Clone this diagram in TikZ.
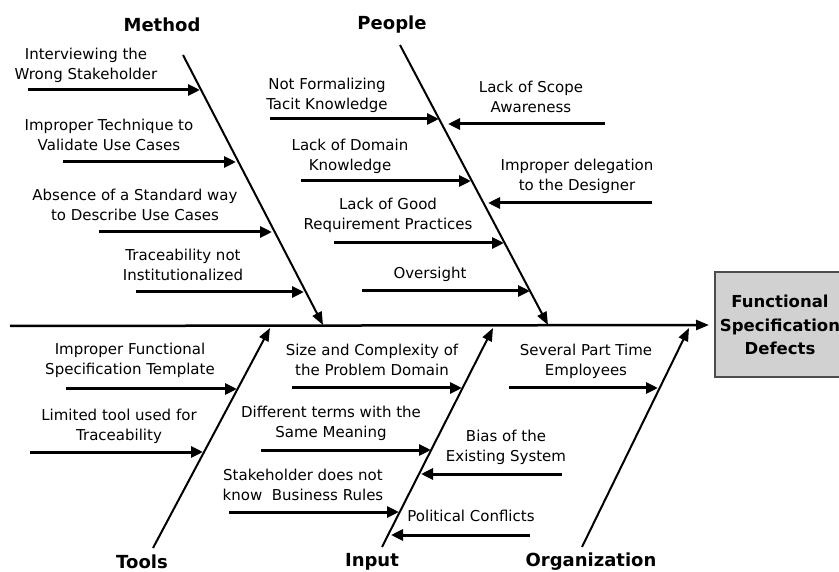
\documentclass[tikz,border=0pt]{standalone}
\usepackage{fontspec}
\setmainfont{DejaVu Sans}
\usetikzlibrary{arrows.meta}

\tikzset{
  cause/.style={font=\fontsize{15}{20}\selectfont, align=center, inner sep=0pt},
  category/.style={font=\fontsize{18}{20}\selectfont\bfseries, inner sep=0pt},
  bone/.style={line width=2pt, -{Triangle[length=13pt,width=10pt]}},
  subarrow/.style={line width=3pt, -{Triangle[length=12pt,width=11pt]}},
  effect/.style={draw=black!70, line width=2pt, fill=black!18, minimum width=130pt,
    minimum height=105pt, align=center, font=\fontsize{16.5}{23.5}\selectfont\bfseries}
}

\begin{document}
\begin{tikzpicture}[x=1pt, y=-1pt]

  \useasboundingbox (0,0) rectangle (839,572);
  \clip (0,0) rectangle (839,572);

  % Effect box
  \node[effect] (defects) at (780,325) {Functional\\Specification\\Defects};

  % Spine
  \coordinate (tail) at (10,326);
  \draw[bone, line width=2.5pt, shorten >=5pt] (tail) -- (defects.west);

  % Bones
  \foreach \name/\xa/\ya/\xb/\yb in {
    method/183/55/323/325,
    people/400/45/548/325,
    tools/153/548/270/328,
    input/382/547/493/328,
    organization/582/547/689/328
  }{
    \coordinate (\name a) at (\xa,\ya);
    \coordinate (\name b) at (\xb,\yb);
    \draw[bone] (\name a) -- (\name b);
  }

  % Category labels
  \foreach \name/\x/\y/\lbl in {
    method/162/25/Method,
    people/392/25/People,
    tools/142/562/Tools,
    input/372/562/Input,
    organization/591/562/Organization
  }{
    \node[category] (\name lbl) at (\x,\y) {\lbl};
  }

  % Causes: text position, arrow start x, arrow end x, arrow y
  \foreach \n/\tx/\ty/\txt/\xa/\xb/\ya in {
    1/86/65/Interviewing the\\Wrong Stakeholder/28/200/90,
    2/109/135/Improper Technique to\\Validate Use Cases/63/236/162,
    3/135/205/Absence of a Standard way\\to Describe Use Cases/99/272/232,
    4/183/265/Traceability not\\Institutionalized/136/304/292,
    5/327/95/Not Formalizing\\Tacit Knowledge/270/439/119,
    6/350/156/Lack of Domain\\Knowledge/301/471/181,
    7/388/215/Lack of Good\\Requirement Practices/334/504/243,
    8/430/274/Oversight/362/530/291,
    9/531/97/Lack of Scope\\Awareness/605/448/124,
    10/577/176/Improper delegation\\to the Designer/652/488/203,
    11/130/360/Improper Functional\\Specification Template/66/237/389,
    12/119/426/Limited tool used for\\Traceability/30/203/452,
    13/372/360/Size and Complexity of\\the Problem Domain/292/462/388,
    14/331/423/Different terms with the\\Same Meaning/261/431/450,
    15/303/485/Stakeholder does not\\know~ Business Rules/229/399/512,
    16/506/447/Bias of the\\Existing System/562/421/474,
    17/471/516/Political Conflicts/530/391/535,
    18/586/361/Several Part Time\\Employees/509/658/388
  }{
    \node[cause] (cause\n) at (\tx,\ty) {\txt};
    \coordinate (cause\n s) at (\xa,\ya);
    \coordinate (cause\n e) at (\xb,\ya);
    \draw[subarrow] (cause\n s) -- (cause\n e);
  }

\end{tikzpicture}
\end{document}
